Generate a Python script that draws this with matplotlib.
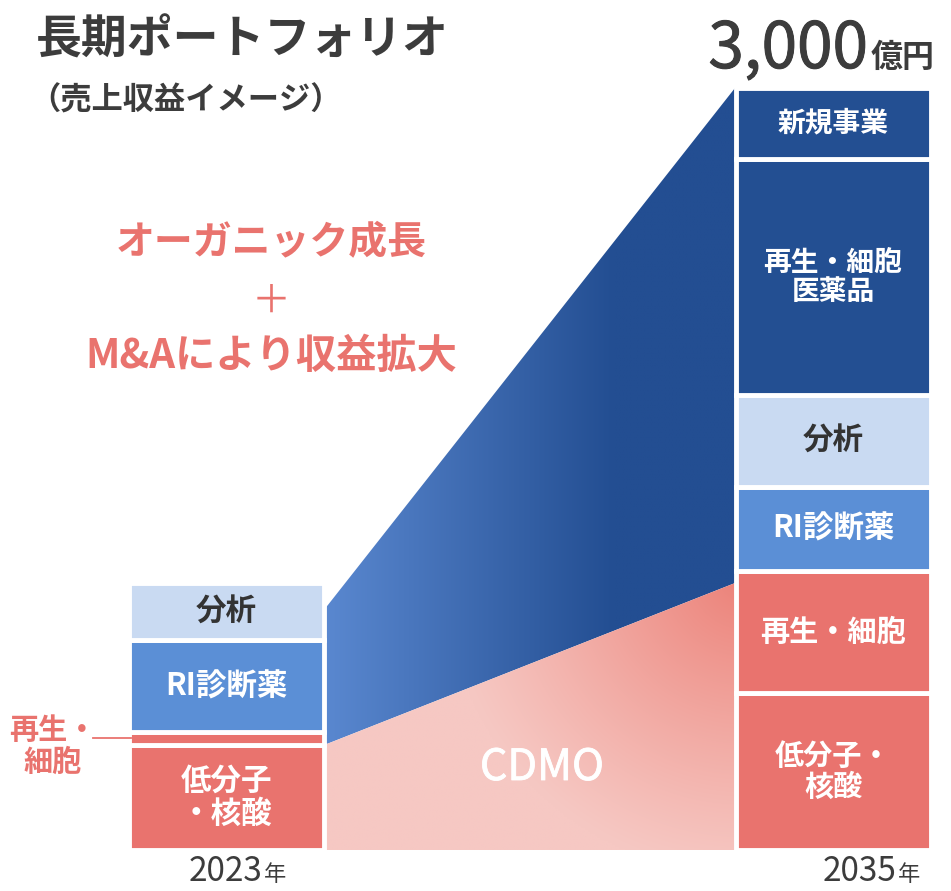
import numpy as np
import matplotlib.pyplot as plt
import matplotlib.patheffects as pe
from matplotlib.patches import Polygon
from matplotlib.colors import to_rgb

plt.rcParams['font.family'] = ['Noto Sans CJK JP', 'DejaVu Sans']

# data (億円)
years = ['2023', '2035']
seg_2023 = ['低分子・核酸', '再生・細胞', 'RI診断薬', '分析']
val_2023 = [415, 50, 360, 225]
seg_2035 = ['低分子・核酸', '再生・細胞', 'RI診断薬', '分析', '再生・細胞医薬品', '新規事業']
val_2035 = [620, 480, 330, 360, 930, 280]
cdmo_band = [413, 1051]      # top of the CDMO area, left / right
growth_top = [945, 3000]     # top of the blue growth area, left / right
total_label = '3,000'

RED = '#E9736E'
BLUE = '#5B8FD6'
LIGHT = '#C9DAF2'
NAVY = '#234F92'
DARK = '#3C3C3C'

colors_2023 = [RED, RED, BLUE, LIGHT]
colors_2035 = [RED, RED, BLUE, LIGHT, NAVY, NAVY]
labels_2023 = ['低分子\n・核酸', '', 'RI診断薬', '分析']
labels_2035 = ['低分子・\n核酸', '再生・細胞', 'RI診断薬', '分析', '再生・細胞\n医薬品', '新規事業']
sizes_2035 = [21, 21, 22, 22, 20, 20]

W, H = 951, 891
PX = 0.254          # pixels per 億円
BASE = 850          # pixel row of the zero line
bar_x = [226.5, 833]
bar_w = 195
area_x = [324, 735]

fig = plt.figure(figsize=(W / 100, H / 100), dpi=100)
ax = fig.add_axes([0, 0, 1, 1])
ax.set_xlim(0, W)
ax.set_ylim(-(H - BASE) / PX, BASE / PX)
ax.axis('off')


def fx(x):
    return x / W


def fy(y):
    return 1 - y / H


def thick(color, lw=0.8):
    return [pe.withStroke(linewidth=lw, foreground=color)]


# gradient areas between the bars
ny = 400
nx = 300
xs = np.linspace(area_x[0], area_x[1], nx)
vs = np.linspace(0, growth_top[1], ny)
XX, VV = np.meshgrid(xs, vs)
YY = BASE - VV * PX

blue_poly = Polygon([(area_x[0], cdmo_band[0]), (area_x[0], growth_top[0]),
                     (area_x[1], growth_top[1]), (area_x[1], cdmo_band[1])],
                    closed=True, facecolor='none', edgecolor='none')
ax.add_patch(blue_poly)
t = np.clip((XX - area_x[0]) / 290, 0, 1)[..., None]
c0, c1 = np.array(to_rgb('#5A88D0')), np.array(to_rgb('#234E92'))
img = c0 * (1 - t) + c1 * t
im = ax.imshow(img, extent=[area_x[0], area_x[1], 0, growth_top[1]],
               origin='lower', aspect='auto', zorder=1, interpolation='bilinear')
im.set_clip_path(blue_poly)

pink_poly = Polygon([(area_x[0], 0), (area_x[0], cdmo_band[0]),
                     (area_x[1], cdmo_band[1]), (area_x[1], 0)],
                    closed=True, facecolor='none', edgecolor='none')
ax.add_patch(pink_poly)
d = np.hypot(XX - 745, YY - 575)
t = (np.clip(1 - d / 300, 0, 1) ** 1.1)[..., None]
c0, c1 = np.array(to_rgb('#F6C8C3')), np.array(to_rgb('#EC8178'))
img = c0 * (1 - t) + c1 * t
im = ax.imshow(img, extent=[area_x[0], area_x[1], 0, growth_top[1]],
               origin='lower', aspect='auto', zorder=1, interpolation='bilinear')
im.set_clip_path(pink_poly)

ax.text(542, (BASE - 768) / PX, 'CDMO', color='white', fontsize=31,
        ha='center', va='center', zorder=3, path_effects=thick('white', 0.6))

# stacked bars
def stack(x, vals, cols, labs, sizes):
    bottom = 0
    for v, c, lab, s in zip(vals, cols, labs, sizes):
        ax.bar(x, v, bottom=bottom, width=bar_w, color=c, edgecolor='white',
               linewidth=3.5, zorder=2)
        if lab:
            tc = '#333333' if c == LIGHT else 'white'
            ax.text(x, bottom + v / 2, lab, ha='center', va='center', color=tc,
                    fontsize=s, fontweight='bold', linespacing=1.05, zorder=3)
        bottom += v


stack(bar_x[0], val_2023, colors_2023, labels_2023, [22] * 4)
stack(bar_x[1], val_2035, colors_2035, labels_2035, sizes_2035)

# callout for the thin 2023 segment
mid = val_2023[0] + val_2023[1] / 2
ax.plot([93, bar_x[0] - bar_w / 2 + 2], [mid, mid], color=RED, lw=1.3, zorder=3)
ax.text(52.5, mid - 30, '再生・\n細胞', color=RED, fontsize=21, fontweight='bold',
        ha='center', va='center', linespacing=1.05)

# year labels
for x, yr in zip(bar_x, years):
    xr = x + 36 if yr == '2023' else x + 64
    ax.text(xr, (BASE - 881) / PX, yr, ha='right', va='baseline', fontsize=24,
            color=DARK)
    ax.text(xr + 1, (BASE - 881) / PX, '年', ha='left', va='baseline',
            fontsize=16, color=DARK)

# headings
fig.text(fx(36), fy(41), '長期ポートフォリオ', fontsize=33, fontweight='bold',
         color=DARK, ha='left', va='center')
fig.text(fx(29), fy(101), '（売上収益イメージ）', fontsize=22.5, fontweight='bold',
         color=DARK, ha='left', va='center')
fig.text(fx(868), fy(68), total_label, fontsize=46, color=DARK,
         ha='right', va='baseline', path_effects=thick(DARK, 0.7))
fig.text(fx(871), fy(67), '億円', fontsize=23, fontweight='bold', color=DARK,
         ha='left', va='baseline')

fig.text(fx(271), fy(242), 'オーガニック成長', fontsize=28, fontweight='bold',
         color=RED, ha='center', va='center')
fig.text(fx(271), fy(302), '＋', fontsize=28, color=RED, ha='center', va='center')
fig.text(fx(271), fy(357), 'M&Aにより収益拡大', fontsize=29, fontweight='bold',
         color=RED, ha='center', va='center')

fig.savefig('out.png', dpi=100)
